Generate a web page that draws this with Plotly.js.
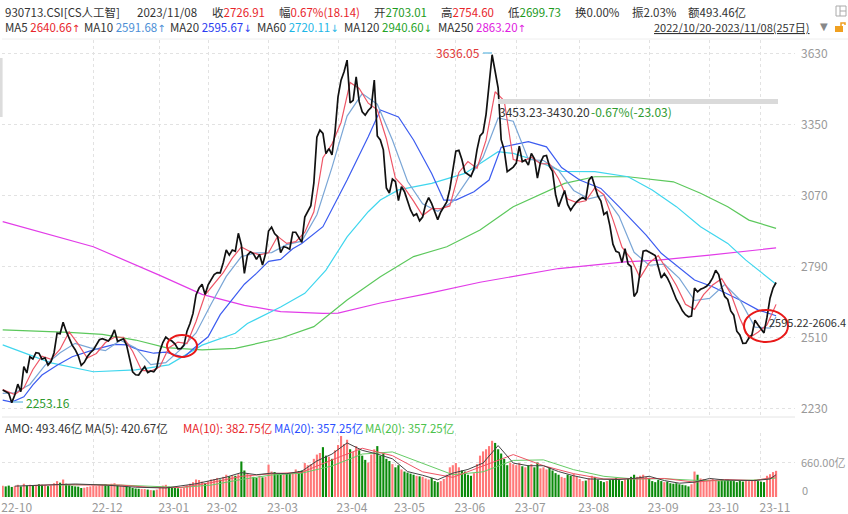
<!DOCTYPE html>
<html><head><meta charset="utf-8">
<script src="https://cdn.plot.ly/plotly-3.0.1.min.js"></script>
<style>body{margin:0;background:#fff}#c{width:848px;height:514px}</style>
</head><body><div id="c"></div>
<script>
// ---- data ----
const monthIdx = [0,30,52,68,88,111,130,150,170,191,214,234,251];
const monthLabels = ["22-10","22-12","23-01","23-02","23-03","23-04","23-05","23-06","23-07","23-08","23-09","23-10","23-11"];
const priceTicks = [2230,2510,2790,3070,3350,3630];
const close = [
2303,2298,2290,2253,2283,2326,2296,2395,2370,2434,
2425,2450,2448,2425,2430,2401,2415,2450,2527,2525,
2570,2535,2505,2480,2462,2438,2400,2412,2434,2450,
2461,2480,2501,2505,2502,2496,2513,2540,2495,2500,
2505,2480,2420,2375,2363,2362,2380,2395,2372,2378,
2375,2390,2455,2490,2512,2502,2496,2485,2465,2466,
2480,2535,2565,2605,2678,2705,2720,2680,2718,2738,
2758,2766,2765,2805,2855,2835,2855,2850,2921,2875,
2763,2835,2848,2840,2818,2838,2796,2840,2930,2945,
2920,2908,2845,2868,2865,2858,2925,2925,2905,2885,
2985,3008,3030,3120,3300,3328,3315,3235,3255,3230,
3320,3459,3525,3558,3604,3435,3445,3538,3440,3400,
3387,3405,3418,3525,3305,3289,3250,3100,3080,3135,
3125,3050,3105,3085,3045,3013,2990,2998,2970,2985,
3035,3062,3038,3010,2975,3005,3025,3045,3095,3170,
3245,3248,3212,3162,3152,3145,3175,3250,3305,3318,
3390,3500,3625,3560,3494,3290,3250,3164,3172,3182,
3198,3265,3203,3210,3190,3236,3215,3139,3200,3225,
3228,3185,3165,3075,3026,3055,3090,3035,3012,3030,
3045,3055,3062,3055,3130,3145,3110,3068,3048,2995,
3005,2950,2878,2850,2845,2806,2860,2800,2790,2672,
2690,2780,2850,2853,2848,2840,2833,2790,2745,2762,
2745,2720,2690,2660,2640,2615,2600,2592,2595,2705,
2690,2700,2705,2712,2725,2745,2775,2758,2708,2672,
2660,2615,2598,2535,2520,2487,2488,2508,2520,2578,
2560,2545,2528,2590,2665,2705,2726.91];
const ma5Days = [0,2,4,7,10,13,16,19,22,25,28,31,34,37,40,43,46,49,52,55,58,61,64,67,70,73,76,79,82,85,88,91,94,97,100,103,106,109,112,115,118,121,124,127,130,133,136,139,142,145,148,151,154,157,160,163,166,169,172,175,178,181,184,187,190,193,196,199,202,205,208,211,214,217,220,223,226,229,232,235,238,241,244,247,250,253,256];
const ma5Vals = [2305,2295,2285,2311,2384,2436,2424,2464,2532,2484,2429,2447,2490,2511,2511,2456,2380,2377,2394,2470,2492,2486,2573,2678,2723,2766,2823,2867,2848,2836,2844,2909,2881,2888,2925,3006,3219,3273,3358,3516,3492,3434,3408,3294,3138,3100,3048,2991,3018,3018,3029,3161,3204,3177,3288,3479,3444,3212,3204,3221,3196,3195,3136,3056,3042,3049,3100,3073,2975,2866,2820,2746,2804,2833,2775,2715,2641,2621,2679,2717,2742,2683,2586,2508,2531,2560,2640.66];
const ma10Days = [0,4,9,14,19,24,29,34,39,44,49,54,59,64,69,74,79,84,89,94,99,104,109,114,119,124,129,134,139,144,149,154,159,164,169,174,179,184,189,194,199,204,209,214,219,224,229,234,239,244,249,254,256];
const ma10Vals = [2290,2292,2325,2400,2450,2487,2469,2458,2499,2469,2403,2411,2464,2528,2642,2751,2829,2844,2845,2876,2890,2994,3181,3383,3472,3430,3289,3126,3037,3008,3046,3136,3221,3376,3363,3212,3208,3169,3090,3057,3071,2989,2846,2795,2799,2743,2656,2664,2719,2659,2551,2547,2591.68];
const ma20Days = [0,3,7,10,13,18,23,30,37,41,45,50,54,60,63,68,72,76,80,84,88,92,96,99,106,114,121,125,131,136,142,146,150,156,161,165,174,180,185,191,198,204,213,218,229,235,244,250,256];
const ma20Vals = [2263,2255,2276,2323,2362,2401,2434,2461,2483,2481,2461,2448,2452,2432,2465,2513,2600,2658,2720,2763,2810,2818,2860,2881,2947,3131,3302,3407,3380,3289,3157,3052,3052,3085,3131,3260,3282,3262,3180,3131,3098,3026,2914,2842,2737,2710,2658,2619,2595.67];
const ma60Days = [0,16,30,44,55,66,77,81,92,100,107,114,121,125,131,142,153,164,169,176,185,196,207,215,223,231,240,246,256];
const ma60Vals = [2481,2410,2375,2382,2402,2480,2527,2565,2630,2684,2776,2907,3006,3052,3092,3118,3157,3243,3236,3210,3165,3164,3144,3092,3026,2947,2881,2815,2720.11];
const ma120Days = [0,22,33,44,54,66,77,92,103,114,125,136,147,158,169,180,186,196,207,222,231,240,247,256];
const ma120Vals = [2540,2530,2522,2500,2470,2461,2467,2507,2553,2658,2750,2829,2868,2934,3026,3085,3118,3144,3144,3124,3079,3026,2973,2940.60];
const ma250Days = [0,30,52,66,80,92,106,111,125,141,158,184,206,217,234,251,256];
const ma250Vals = [2967,2868,2755,2680,2637,2612,2605,2606,2646,2684,2728,2782,2808,2815,2835,2855,2863.20];
const amount = [
210,200,215,190,205,230,200,250,215,230,
215,225,240,230,225,205,220,260,300,270,
330,250,225,210,200,195,170,175,190,200,
215,205,220,230,240,215,250,260,225,215,
205,215,190,170,160,155,150,150,140,130,
125,140,200,215,230,195,175,170,165,160,
175,220,250,280,330,320,290,260,300,330,
340,360,330,380,420,390,410,400,430,670,
500,440,420,380,360,400,370,380,610,480,
470,440,420,430,450,440,470,520,490,500,
640,600,620,720,800,830,940,780,760,720,
880,980,1150,1000,1080,900,850,960,880,780,
700,650,800,900,960,780,820,720,680,620,
560,600,520,480,460,440,420,400,390,380,
350,330,360,300,280,300,340,420,560,600,
640,560,500,480,420,400,450,620,780,860,
900,960,1060,1020,900,820,720,600,650,620,
600,640,580,560,600,620,560,650,540,560,
520,560,500,450,420,380,360,420,400,440,
380,340,300,310,360,400,380,330,300,280,
300,320,340,360,320,300,330,340,380,420,
380,400,420,380,360,300,280,320,300,280,
290,260,250,260,240,230,220,200,240,480,
420,350,340,320,330,340,320,300,340,310,
330,310,300,280,320,290,310,300,320,330,
300,290,280,400,430,470,493.46];
const amo5Days = [4,14,24,34,44,54,64,74,79,84,89,94,99,104,109,114,119,124,129,134,139,144,149,154,159,164,169,174,179,184,189,194,199,204,209,214,219,224,229,234,239,244,249,254,256];
const amo5Vals = [205,230,245,225,185,170,250,375,460,420,450,440,485,680,810,1020,880,810,720,480,410,325,450,520,640,970,640,590,590,480,400,340,340,330,350,390,310,260,280,350,320,310,310,340,420.67];
const amo10Days = [9,19,29,39,49,59,69,79,89,99,109,119,129,139,149,159,169,179,189,199,209,219,229,239,249,256];
const amo10Vals = [215,235,225,225,180,180,270,390,440,465,700,920,780,475,370,580,800,590,440,340,340,350,280,330,310,382.75];
const amo20Days = [19,29,39,49,59,69,79,89,99,109,119,129,139,149,159,169,179,189,199,209,219,229,239,249,256];
const amo20Vals = [225,235,225,205,180,225,330,415,450,585,810,850,630,420,475,690,700,515,390,340,345,315,305,320,357.25];

// ---- layout helpers (pixel -> paper) ----
const L=2,R=795,T=40,B=497;
const px=v=>(v-L)/(R-L), py=v=>(B-v)/(B-T);
const days = close.map((_,i)=>i);
const barColor = close.map((c,i)=> (i===0||c>=close[i-1]) ? '#ff7878' : '#0a8a0a');

const FONT = '"Noto Sans CJK SC", "Noto Sans", sans-serif';
function line(xs,ys,color,w){return {x:xs,y:ys,type:'scatter',mode:'lines',line:{color:color,width:w},hoverinfo:'skip',xaxis:'x',yaxis:'y'};}
function vline(xs,ys,color){return {x:xs,y:ys,type:'scatter',mode:'lines',line:{color:color,width:1},hoverinfo:'skip',xaxis:'x2',yaxis:'y2'};}

const traces = [
  line(ma250Days,ma250Vals,'#e23ce8',1.2),
  line(ma120Days,ma120Vals,'#5cc85c',1.2),
  line(ma60Days,ma60Vals,'#3fd6ee',1.2),
  line(ma20Days,ma20Vals,'#3c5cf0',1.2),
  line(ma10Days,ma10Vals,'#7aa6d6',1.2),
  line(ma5Days,ma5Vals,'#ee5566',1.2),
  line(days,close,'#111111',1.7),
  {x:days,y:amount,type:'bar',marker:{color:barColor,line:{width:0}},xaxis:'x2',yaxis:'y2',hoverinfo:'skip'},
  vline(amo20Days,amo20Vals,'#66cc66'),
  vline(amo10Days,amo10Vals,'#ee5566'),
  vline(amo5Days,amo5Vals,'#444444')
];

function ann(x,y,text,color,size,anchor){return {xref:'paper',yref:'paper',x:px(x),y:py(y),text:text,showarrow:false,xanchor:anchor||'left',yanchor:'middle',font:{family:FONT,size:size||11.5,color:color||'#333'}};}
const sp=(c,t)=>`<span style="color:${c}">${t}</span>`;
const AR=a=>`<span style="font-family:'DejaVu Sans';font-size:10px">${a}</span>`;
const annotations = [
  ann(3,12,'930713.CSI[CS人工智]'),
  ann(135,12,'2023/11/08'),
  ann(210,12,'收'+sp('#e8262c','2726.91')),
  ann(277,12,'幅'+sp('#e8262c','0.67%(18.14)')),
  ann(372,12,'开'+sp('#1c9a1c','2703.01')),
  ann(439,12,'高'+sp('#e8262c','2754.60')),
  ann(506,12,'低'+sp('#1c9a1c','2699.73')),
  ann(573,12,'换0.00%'),
  ann(630,12,'振2.03%'),
  ann(686,12,'额493.46亿'),
  ann(3,27,'MA5 '+sp('#e8262c','2640.66'+AR('↑'))),
  ann(82,27,'MA10 '+sp('#4d8fd6','2591.68'+AR('↑'))),
  ann(168,27,'MA20 '+sp('#2a3cf0','2595.67'+AR('↓'))),
  ann(255,27,'MA60 '+sp('#1fb6e6','2720.11'+AR('↓'))),
  ann(342,27,'MA120 '+sp('#26a326','2940.60'+AR('↓'))),
  ann(436,27,'MA250 '+sp('#e020e0','2863.20'+AR('↑'))),
  ann(652,27,'<u>2022/10/20-2023/11/08(257日)</u>','#333',11),
  ann(818,26,AR('▼'),'#888',10),
  ann(482,52,'3636.05','#e03838',12,'right'),
  ann(24,402,'2253.16','#2e9a2e',12),
  ann(497,112,'3453.23-3430.20','#333',12),
  ann(589,112,'-0.67%(-23.03)','#2e9a2e',12),
  ann(767,322,'2595.22-2606.4','#333',11),
  ann(3,428,'AMO: 493.46亿 MA(5): 420.67亿'),
  ann(181,428,'MA(10): 382.75亿','#e8262c'),
  ann(272,428,'MA(20): 357.25亿','#2a50ff'),
  ann(363,428,'MA(20): 357.25亿','#4cc24c'),
  ann(799,462,'660.00亿','#999',11),
  ann(800,490,'0','#999',11)
];
const shapes = [
  {type:'rect',xref:'paper',yref:'paper',x0:px(0),x1:px(2.6),y0:py(117),y1:py(58),fillcolor:'#dcdcdc',line:{width:0}},
  {type:'rect',xref:'paper',yref:'paper',x0:px(498),x1:px(778),y0:py(104),y1:py(99),fillcolor:'#dadada',line:{width:0}},
  {type:'line',xref:'paper',yref:'paper',x0:px(483),x1:px(492),y0:py(53),y1:py(53),line:{color:'#7fc4e6',width:1.5}},
  {type:'line',xref:'paper',yref:'paper',x0:px(13),x1:px(23),y0:py(402),y1:py(402),line:{color:'#7fc4e6',width:1.5}},
  {type:'circle',xref:'paper',yref:'paper',x0:px(167),x1:px(197),y0:py(357),y1:py(335),line:{color:'#e81818',width:2}},
  {type:'circle',xref:'paper',yref:'paper',x0:px(744),x1:px(788),y0:py(342),y1:py(310),line:{color:'#e81818',width:2}},
  {type:'line',xref:'paper',yref:'paper',x0:0,x1:1,y0:py(417),y1:py(417),line:{color:'#e4e4e4',width:1}},
  {type:'line',xref:'paper',yref:'paper',x0:0,x1:px(848),y0:py(39),y1:py(39),line:{color:'#eeeeee',width:1}},
  {type:'rect',xref:'paper',yref:'paper',x0:px(836),x1:px(846),y0:py(16),y1:py(6),fillcolor:'rgba(0,0,0,0)',line:{color:'#aaa',width:1}},
  {type:'line',xref:'paper',yref:'paper',x0:px(840),x1:px(840),y0:py(16),y1:py(6),line:{color:'#aaa',width:1}},
  {type:'line',xref:'paper',yref:'paper',x0:px(840),x1:px(846),y0:py(11),y1:py(11),line:{color:'#aaa',width:1}},
  {type:'rect',xref:'paper',yref:'paper',x0:px(835),x1:px(843),y0:py(32),y1:py(26),fillcolor:'#f0a020',line:{width:0}},
  {type:'path',xref:'paper',yref:'paper',path:`M ${px(841)} ${py(26)} L ${px(841)} ${py(23)} L ${px(845)} ${py(23)} L ${px(845)} ${py(25)}`,line:{color:'#f0a020',width:1.5}}
];

const xRange=[(L-2.7)/3.021,(R-2.7)/3.021];
const grid={showgrid:true,gridcolor:'#e2e2e2',griddash:'dot',gridwidth:1,zeroline:false,showline:false};
const layout = {
  width:848,height:514,margin:{l:L,r:848-R,t:T,b:514-B},
  paper_bgcolor:'#fff',plot_bgcolor:'#fff',showlegend:false,bargap:0.3,
  font:{family:FONT,size:12,color:'#333'},
  xaxis:Object.assign({},grid,{domain:[0,1],anchor:'y',range:xRange,tickmode:'array',tickvals:monthIdx.slice(1),showticklabels:false}),
  xaxis2:Object.assign({},grid,{domain:[0,1],anchor:'y2',range:xRange,tickmode:'array',tickvals:monthIdx,ticktext:monthLabels,ticklabelshift:14,ticklabelstandoff:2,tickfont:{size:12,color:'#999'},ticks:''}),
  yaxis:Object.assign({},grid,{domain:[py(415),1],range:[2230-6.5*3.944,3630+13.5*3.944],side:'right',tickmode:'array',tickvals:priceTicks,tickfont:{size:12,color:'#999'},ticklabelstandoff:5}),
  yaxis2:Object.assign({},grid,{domain:[0,py(433)],range:[0,(497-433)*18.86],side:'right',tickmode:'array',tickvals:[660],showticklabels:false}),
  annotations:annotations,shapes:shapes
};
Plotly.newPlot('c',traces,layout,{staticPlot:true,displayModeBar:false});
</script></body></html>
